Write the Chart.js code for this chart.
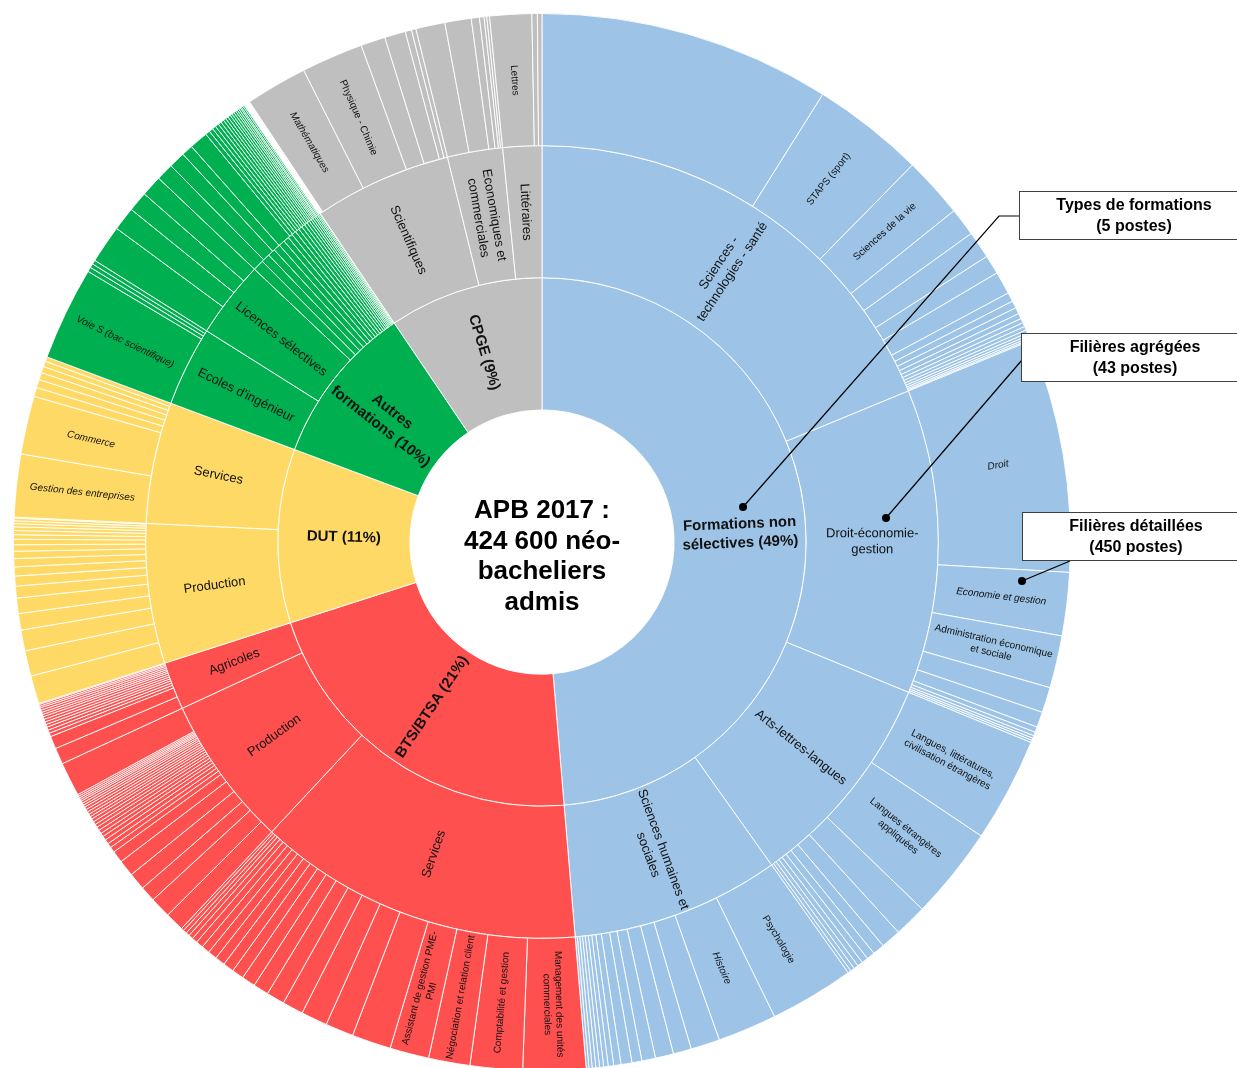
<!DOCTYPE html>
<html lang="fr">
<head>
<meta charset="utf-8">
<title>APB 2017 : 424 600 néo-bacheliers admis</title>
<script src="https://cdn.jsdelivr.net/npm/chart.js@4.4.1/dist/chart.umd.min.js"></script>
<style>
  html, body { margin: 0; padding: 0; background: #fff; overflow: hidden; }
</style>
</head>
<body>
<canvas id="apb" width="1237" height="1084"></canvas>
<script>
// parts (en degrés du disque)

// anneau intérieur : types de formations
const types = ["Formations non\nsélectives (49%)", "BTS/BTSA (21%)", "DUT (11%)", "Autres\nformations (10%)", "CPGE (9%)"];
const typesValeurs = [175.2, 77.0, 38.3, 35.5, 34.0];

// anneau du milieu : filières agrégées, par type
const agregNonSelectives = [67.6, 44.7, 32.3, 30.6];
const agregBTS = [47.8, 22.2, 7.0];
const agregDUT = [20.5, 17.8];
const agregAutres = [11.7, 11.3, 1.6, 1.3, 1.1, 1.0, 0.9, 0.8, 0.7, 0.65, 0.6, 0.55, 0.5, 0.45, 0.4, 0.35, 0.3, 0.3, 0.25, 0.25, 0.2, 0.2, 0.1];
const agregCPGE = [20.2, 8.1, 5.7];

const nomsAgreg = [
  ["Sciences -\ntechnologies - santé", "Droit-économie-\ngestion", "Arts-lettres-langues", "Sciences humaines et\nsociales"],
  ["Services", "Production", "Agricoles"],
  ["Production", "Services"],
  ["Ecoles d'ingénieur", "Licences sélectives"],
  ["Scientifiques", "Economiques et\ncommerciales", "Littéraires"]
];

// anneau extérieur : filières détaillées, par filière agrégée
const detailNonSelectives = [
  [32.1, 12.4, 6.7, 3.1, 3.0, 2.1, 2.5, 1.0, 0.8, 0.7, 0.6, 0.5, 0.45, 0.4, 0.35, 0.3, 0.25, 0.2, 0.15],
  [25.7, 6.95, 5.75, 2.8, 1.7, 0.6, 0.4, 0.3, 0.25, 0.25],
  [11.5, 10.2, 3.6, 2.2, 1.3, 0.9, 0.7, 0.6, 0.5, 0.45, 0.35],
  [9.3, 6.5, 3.2, 2.0, 2.0, 1.5, 1.1, 1.2, 0.8, 0.6, 0.5, 0.45, 0.4, 0.4, 0.35, 0.3]
];
const detailBTS = [
  [6.9, 5.75, 4.55, 4.3, 4.3, 3.1, 2.9, 2.3, 2.0, 1.7, 1.5, 1.3, 1.2, 1.1, 1.0, 0.9, 0.8, 0.6, 0.5, 0.4, 0.4, 0.3],
  [2.1, 2.3, 1.7, 1.9, 1.8, 1.3, 0.6, 0.5, 0.5, 0.45, 0.4, 0.4, 0.4, 0.35, 0.35, 0.35, 0.3, 0.3, 0.3, 0.3, 0.3, 0.25, 0.25, 0.25, 0.2, 0.2, 0.2, 0.2, 3.75],
  [1.8, 1.4, 0.4, 0.35, 0.35, 0.3, 0.3, 0.3, 0.3, 0.25, 0.25, 0.25, 0.25, 0.2, 0.2, 0.1]
];
const detailDUT = [
  [3.1, 2.8, 2.3, 1.8, 1.7, 1.3, 1.1, 1.0, 0.9, 0.8, 0.7, 0.6, 0.5, 0.45, 0.4, 0.35, 0.3, 0.3, 0.1],
  [6.9, 6.4, 1.0, 0.9, 0.8, 0.7, 0.6, 0.5]
];
const detailAutres = [
  [10.3, 0.5, 0.45, 0.45],
  [4.2, 2.6, 2.2, 2.3],
  [1.9, 1.8, 1.25, 2.05, 0.5, 0.45, 0.4, 0.4, 0.35, 0.35, 0.3, 0.3, 0.3, 0.25, 0.25, 0.25, 0.2, 0.2, 0.2, 0.15, 0.2, 0.15]
];
const ecartAutresCPGE = 0.7; // petit vide blanc entre le vert et le gris
const detailCPGE = [
  [6.8, 6.8, 2.7, 2.3, 0.7, 0.5],
  [3.2, 2.9, 0.9, 0.5, 0.3, 0.3],
  [4.6, 0.6, 0.5]
];

const nomsDetail = [
  [["", "STAPS (sport)", "Sciences de la vie"],
   ["Droit", "Economie et gestion", "Administration économique\net sociale"],
   ["Langues, littératures,\ncivilisation étrangères", "Langues étrangères\nappliquées"],
   ["Psychologie", "Histoire"]],
  [["Management des unités\ncommerciales", "Comptabilité et gestion", "Négociation et relation client", "Assistant de gestion PME-\nPMI"], [], []],
  [[], ["Gestion des entreprises", "Commerce"]],
  [["Voie S (bac scientifique)"], [], []],
  [["Mathématiques", "Physique - Chimie"], [], ["Lettres"]]
];

// styles
const couleurs = ["#9DC3E6", "#FF5050", "#FFD966", "#00B050", "#BFBFBF"];
const italiques = ["Voie S (bac scientifique)", "Commerce", "Gestion des entreprises", "Economie et gestion", "Histoire", "Mathématiques", "Droit"];
const police = "'Liberation Sans', Arial, sans-serif";

// construction des anneaux
const agreg = [agregNonSelectives, agregBTS, agregDUT, agregAutres, agregCPGE];
const detail = [detailNonSelectives, detailBTS, detailDUT, detailAutres, detailCPGE];

const ext = { data: [], bg: [], bw: [], txt: [] };
detail.forEach((groupes, t) => {
  groupes.forEach((vals, g) => {
    vals.forEach((v, i) => {
      ext.data.push(v);
      ext.bg.push(couleurs[t]);
      ext.bw.push(1);
      ext.txt.push(nomsDetail[t][g][i] || "");
    });
  });
  if (t === 3) {
    ext.data.push(ecartAutresCPGE);
    ext.bg.push("rgba(255,255,255,0)");
    ext.bw.push(0);
    ext.txt.push("");
  }
});

const mil = { data: [], bg: [], txt: [] };
agreg.forEach((vals, t) => {
  vals.forEach((v, i) => {
    mil.data.push(v);
    mil.bg.push(couleurs[t]);
    mil.txt.push(nomsAgreg[t][i] || "");
  });
});

// étiquettes dans les secteurs, orientées selon le rayon
const etiquettes = {
  id: "etiquettes",
  afterDatasetsDraw(chart) {
    const ctx = chart.ctx;
    chart.data.datasets.forEach((ds, di) => {
      const meta = chart.getDatasetMeta(di);
      meta.data.forEach((arc, i) => {
        const texte = ds.textes[i];
        if (!texte) return;
        const p = arc.getProps(["x", "y", "startAngle", "endAngle", "innerRadius", "outerRadius"], true);
        const a = (p.startAngle + p.endAngle) / 2;
        const r = (p.innerRadius + p.outerRadius) / 2;
        let rot = a;
        if (Math.cos(a) < 0) rot = a + Math.PI;
        ctx.save();
        ctx.translate(p.x + r * Math.cos(a), p.y + r * Math.sin(a));
        ctx.rotate(rot);
        const it = italiques.includes(texte) ? "italic " : "";
        ctx.font = it + ds.police;
        ctx.fillStyle = "#111";
        ctx.textAlign = "center";
        ctx.textBaseline = "middle";
        const lignes = texte.split("\n");
        lignes.forEach((l, k) => {
          ctx.fillText(l, 0, (k - (lignes.length - 1) / 2) * ds.interligne);
        });
        ctx.restore();
      });
    });
  }
};

// titre central et encadrés explicatifs
const habillage = {
  id: "habillage",
  afterDraw(chart) {
    const ctx = chart.ctx;
    const arc = chart.getDatasetMeta(0).data[0];
    ctx.save();
    ctx.fillStyle = "#000";
    ctx.font = "bold 26px " + police;
    ctx.textAlign = "center";
    ctx.textBaseline = "middle";
    ["APB 2017 :", "424 600 néo-", "bacheliers", "admis"].forEach((l, k) => {
      ctx.fillText(l, arc.x, arc.y - 31 + k * 30.5);
    });

    // traits de rappel
    ctx.strokeStyle = "#000";
    ctx.lineWidth = 1.2;
    ctx.beginPath();
    ctx.moveTo(1019, 216); ctx.lineTo(999, 216); ctx.lineTo(743, 507);
    ctx.moveTo(1022, 360); ctx.lineTo(886, 518);
    ctx.moveTo(1070, 561); ctx.lineTo(1022, 581);
    ctx.stroke();
    [[743, 507], [886, 518], [1022, 581]].forEach(([x, y]) => {
      ctx.beginPath(); ctx.arc(x, y, 4, 0, Math.PI * 2); ctx.fill();
    });

    // encadrés (ils débordent à droite comme dans l'original)
    const boites = [
      [1019, 191, 1134, ["Types de formations", "(5 postes)"]],
      [1021, 333, 1135, ["Filières agrégées", "(43 postes)"]],
      [1022, 512, 1136, ["Filières détaillées", "(450 postes)"]]
    ];
    ctx.font = "bold 16px " + police;
    boites.forEach(([x, y, xt, lignes]) => {
      ctx.fillStyle = "#fff";
      ctx.fillRect(x, y, 260, 48);
      ctx.strokeStyle = "#404040";
      ctx.lineWidth = 1;
      ctx.strokeRect(x + 0.5, y + 0.5, 260, 48);
      ctx.fillStyle = "#000";
      lignes.forEach((l, k) => ctx.fillText(l, xt, y + 15 + k * 21));
    });
    ctx.restore();
  }
};

new Chart(document.getElementById("apb").getContext("2d"), {
  type: "doughnut",
  data: {
    datasets: [
      {
        data: ext.data,
        backgroundColor: ext.bg,
        borderColor: "rgba(255,255,255,0.9)",
        borderWidth: ext.bw,
        textes: ext.txt,
        police: "10px " + police,
        interligne: 12
      },
      {
        data: mil.data,
        backgroundColor: mil.bg,
        borderColor: "rgba(255,255,255,0.9)",
        borderWidth: 1,
        textes: mil.txt,
        police: "13px " + police,
        interligne: 16
      },
      {
        data: typesValeurs,
        backgroundColor: couleurs,
        borderColor: "rgba(255,255,255,0.9)",
        borderWidth: 1,
        textes: types,
        police: "bold 15px " + police,
        interligne: 19
      }
    ]
  },
  options: {
    responsive: false,
    animation: false,
    events: [],
    cutout: "25%",
    layout: { padding: { left: 13, right: 166, top: 13, bottom: 13 } },
    plugins: {
      legend: { display: false },
      tooltip: { enabled: false }
    }
  },
  plugins: [etiquettes, habillage]
});
</script>
</body>
</html>
